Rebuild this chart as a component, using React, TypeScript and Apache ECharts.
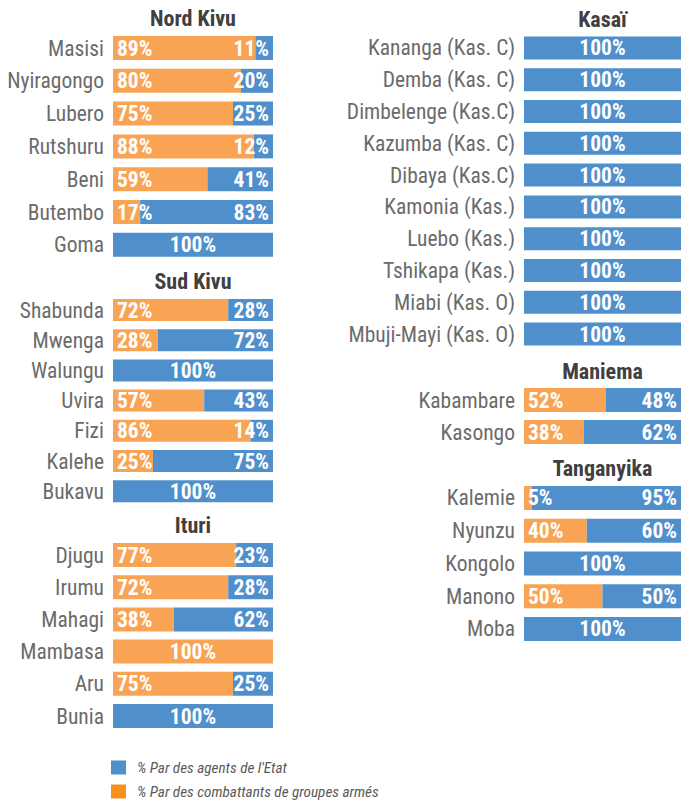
import React, { useEffect, useRef } from "react";
import * as echarts from "echarts";

const nordKivuCats = ["Masisi", "Nyiragongo", "Lubero", "Rutshuru", "Beni", "Butembo", "Goma"];
const nordKivuArmed = [89, 80, 75, 88, 59, 17, 0];
const nordKivuState = [11, 20, 25, 12, 41, 83, 100];

const sudKivuCats = ["Shabunda", "Mwenga", "Walungu", "Uvira", "Fizi", "Kalehe", "Bukavu"];
const sudKivuArmed = [72, 28, 0, 57, 86, 25, 0];
const sudKivuState = [28, 72, 100, 43, 14, 75, 100];

const ituriCats = ["Djugu", "Irumu", "Mahagi", "Mambasa", "Aru", "Bunia"];
const ituriArmed = [77, 72, 38, 100, 75, 0];
const ituriState = [23, 28, 62, 0, 25, 100];

const kasaiCats = [
  "Kananga (Kas. C)", "Demba (Kas. C)", "Dimbelenge (Kas.C)", "Kazumba (Kas. C)", "Dibaya (Kas.C)",
  "Kamonia (Kas.)", "Luebo (Kas.)", "Tshikapa (Kas.)", "Miabi (Kas. O)", "Mbuji-Mayi (Kas. O)",
];
const kasaiArmed = [0, 0, 0, 0, 0, 0, 0, 0, 0, 0];
const kasaiState = [100, 100, 100, 100, 100, 100, 100, 100, 100, 100];

const maniemaCats = ["Kabambare", "Kasongo"];
const maniemaArmed = [52, 38];
const maniemaState = [48, 62];

const tanganyikaCats = ["Kalemie", "Nyunzu", "Kongolo", "Manono", "Moba"];
const tanganyikaArmed = [5, 40, 0, 50, 0];
const tanganyikaState = [95, 60, 100, 50, 100];

const STATE_NAME = "% Par des agents de l'Etat";
const ARMED_NAME = "% Par des combattants de groupes armés";

const ORANGE = "#F9A455";
const BLUE = "#4F8FCC";
const FONT = "'Roboto Condensed', 'Liberation Sans Narrow', 'DejaVu Sans Condensed', Roboto, sans-serif";

const panels = [
  { title: "Nord Kivu", cats: nordKivuCats, armed: nordKivuArmed, state: nordKivuState, left: 113, width: 160, top: 31.6, rowH: 32.8, barW: 24 },
  { title: "Sud Kivu", cats: sudKivuCats, armed: sudKivuArmed, state: sudKivuState, left: 113, width: 160, top: 294.9, rowH: 30.2, barW: 22 },
  { title: "Ituri", cats: ituriCats, armed: ituriArmed, state: ituriState, left: 113, width: 160, top: 538.9, rowH: 32.2, barW: 24 },
  { title: "Kasaï", cats: kasaiCats, armed: kasaiArmed, state: kasaiState, left: 524, width: 157, top: 32.1, rowH: 31.78, barW: 23 },
  { title: "Maniema", cats: maniemaCats, armed: maniemaArmed, state: maniemaState, left: 524, width: 157, top: 384, rowH: 32, barW: 24 },
  { title: "Tanganyika", cats: tanganyikaCats, armed: tanganyikaArmed, state: tanganyikaState, left: 524, width: 157, top: 481.6, rowH: 32.75, barW: 24 },
];

function makeItems(values: number[], side: "left" | "right") {
  return values.map((v) => {
    if (v === 0) return { value: v, label: { show: false } };
    if (v === 100) return { value: v, label: { show: true, position: "inside" } };
    return { value: v, label: { show: true, position: side === "left" ? "insideLeft" : "insideRight" } };
  });
}

export default function App() {
  const ref = useRef<HTMLDivElement>(null);
  useEffect(() => {
    document.body.style.margin = "0";
    const chart = echarts.init(ref.current!, undefined, { renderer: "svg" });
    const grids: any[] = [];
    const xAxes: any[] = [];
    const yAxes: any[] = [];
    const series: any[] = [];
    const graphics: any[] = [];
    const labelCommon = {
      color: "#fff",
      fontWeight: "bold",
      fontSize: 21.5,
      fontFamily: FONT,
      distance: 4,
      formatter: (p: any) => p.value + "%",
    };
    panels.forEach((p, i) => {
      const h = p.rowH * p.cats.length;
      grids.push({ left: p.left, top: p.top, width: p.width, height: h });
      xAxes.push({ gridIndex: i, type: "value", min: 0, max: 100, show: false });
      yAxes.push({
        gridIndex: i,
        type: "category",
        data: p.cats,
        inverse: true,
        axisLine: { show: false },
        axisTick: { show: false },
        splitLine: { show: false },
        axisLabel: { color: "#6b6b6b", fontSize: 21.5, fontFamily: FONT, margin: 9, padding: [0, 0, 5, 0] },
      });
      series.push({
        name: ARMED_NAME,
        type: "bar",
        stack: "s" + i,
        xAxisIndex: i,
        yAxisIndex: i,
        barWidth: p.barW,
        itemStyle: { color: ORANGE },
        label: labelCommon,
        data: makeItems(p.armed, "left"),
      });
      series.push({
        name: STATE_NAME,
        type: "bar",
        stack: "s" + i,
        xAxisIndex: i,
        yAxisIndex: i,
        barWidth: p.barW,
        itemStyle: { color: BLUE },
        label: labelCommon,
        data: makeItems(p.state, "right"),
      });
      graphics.push({
        type: "text",
        x: p.left + p.width / 2,
        y: p.top - 13,
        style: {
          text: p.title,
          fill: "#404040",
          font: `bold 22px ${FONT}`,
          textAlign: "center",
          textVerticalAlign: "middle",
        },
      });
    });
    chart.setOption({
      animation: false,
      grid: grids,
      xAxis: xAxes,
      yAxis: yAxes,
      series,
      graphic: graphics,
      legend: {
        orient: "vertical",
        left: 111,
        top: 760,
        padding: 0,
        itemWidth: 15,
        itemHeight: 14,
        itemGap: 9,
        selectedMode: false,
        icon: "rect",
        textStyle: { color: "#595959", fontStyle: "italic", fontSize: 15.2, fontFamily: FONT, padding: [0, 0, 0, 6] },
        data: [
          { name: STATE_NAME, itemStyle: { color: BLUE } },
          { name: ARMED_NAME, itemStyle: { color: "#F7901E" } },
        ],
      },
    });
    return () => chart.dispose();
  }, []);
  return <div ref={ref} style={{ position: "absolute", left: 0, top: 0, width: 681, height: 804 }} />;
}
